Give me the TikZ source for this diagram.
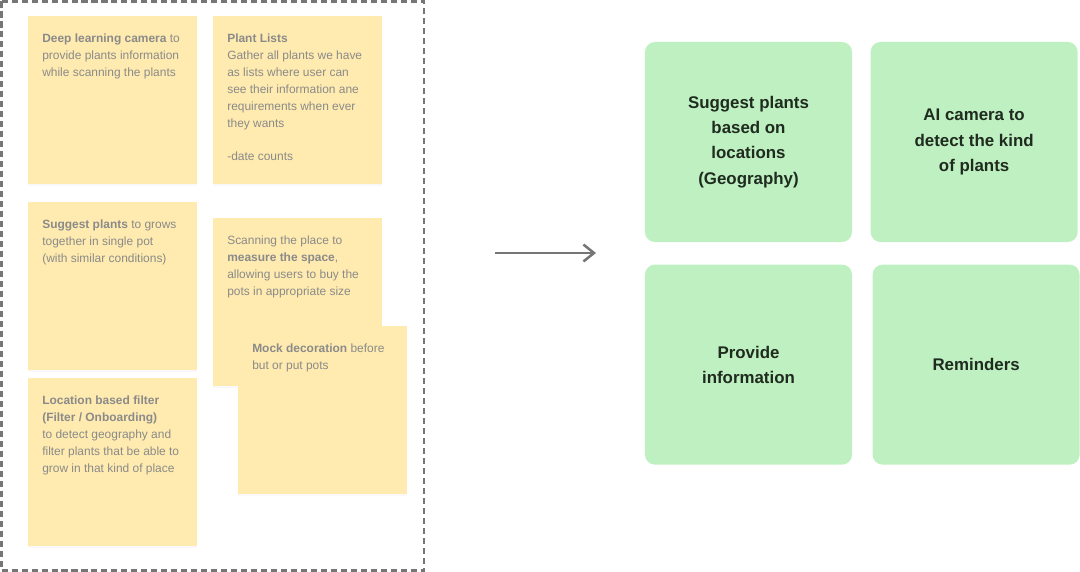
\documentclass[tikz,border=0pt]{standalone}
\usepackage{fontspec}
\setmainfont{Liberation Sans}
\usepackage{tikz}
\usetikzlibrary{positioning, arrows.meta, shadows}
\usepackage{xcolor}

\definecolor{stickyfill}{HTML}{FFEBAF}
\definecolor{stickytext}{HTML}{8A8A8A}
\definecolor{ideafill}{HTML}{BFF0C1}
\definecolor{ideatext}{HTML}{1F2B1F}
\definecolor{framegray}{HTML}{767676}
\newcommand{\stickytxt}[1]{\hspace*{0.35cm}\parbox[t][3.45cm][t]{3.875cm}{\vspace*{2pt}\raggedright #1}}

\begin{document}
\begin{tikzpicture}[
    x=0.025cm, y=-0.025cm,
    sticky/.style={rectangle, anchor=north west, fill=stickyfill, inner xsep=0pt, inner ysep=0.375cm,
        text=stickytext, font=\fontsize{8.5}{12}\selectfont,
        drop shadow={opacity=0.05, shadow xshift=0pt, shadow yshift=-1.5pt}},
    idea/.style={rectangle, rounded corners=0.25cm, fill=ideafill, minimum width=5.175cm, minimum height=5cm,
        align=center, text=ideatext, font=\bfseries\fontsize{12}{17.9}\selectfont},
    frame/.style={draw=framegray, line width=1.8pt, dash pattern=on 4.3pt off 2.8pt},
    flow/.style={-{Straight Barb[length=7.5pt,width=12pt]}, line width=1.8pt, draw=framegray},
    node distance=0.45cm
]
\useasboundingbox (0,0) rectangle (1080,572);

% 头脑风暴区
\draw[frame] (1.5,1.5) rectangle (424,570.5);

\node[sticky] (DeepCamera) at (28,16) {\stickytxt{\textbf{Deep learning camera} to\\provide plants information\\while scanning the plants}};
\node[sticky] (PlantLists) at (213,16) {\stickytxt{\textbf{Plant Lists}\\Gather all plants we have\\as lists where user can\\see their information ane\\requirements when ever\\they wants\\[12pt]-date counts}};
\node[sticky] (SuggestGrow) at (28,202) {\stickytxt{\textbf{Suggest plants} to grows\\together in single pot\\(with similar conditions)}};
\node[sticky] (ScanSpace) at (213,218) {\stickytxt{Scanning the place to\\\textbf{measure the space},\\allowing users to buy the\\pots in appropriate size}};
\node[sticky] (MockDecor) at (238,326) {\stickytxt{\textbf{Mock decoration} before\\but or put pots}};
\node[sticky] (LocationFilter) at (28,378) {\stickytxt{\textbf{Location based filter}\\\textbf{(Filter / Onboarding)}\\to detect geography and\\filter plants that be able to\\grow in that kind of place}};

% 归纳后的功能
\node[idea] (Geography) at (748.5,142) {Suggest plants\\based on\\locations\\(Geography)};
\node[idea, right=of Geography] (AiCamera) {AI camera to\\detect the kind\\of plants};
\node[idea, below=0.55cm of Geography] (ProvideInfo) {Provide\\information};
\node[idea, right=0.5cm of ProvideInfo] (Reminders) {Reminders};

% 箭头
\coordinate (ArrowTail) at (495,253);
\coordinate (ArrowHead) at (596,253);
\draw[flow] (ArrowTail) -- (ArrowHead);

\end{tikzpicture}
\end{document}
